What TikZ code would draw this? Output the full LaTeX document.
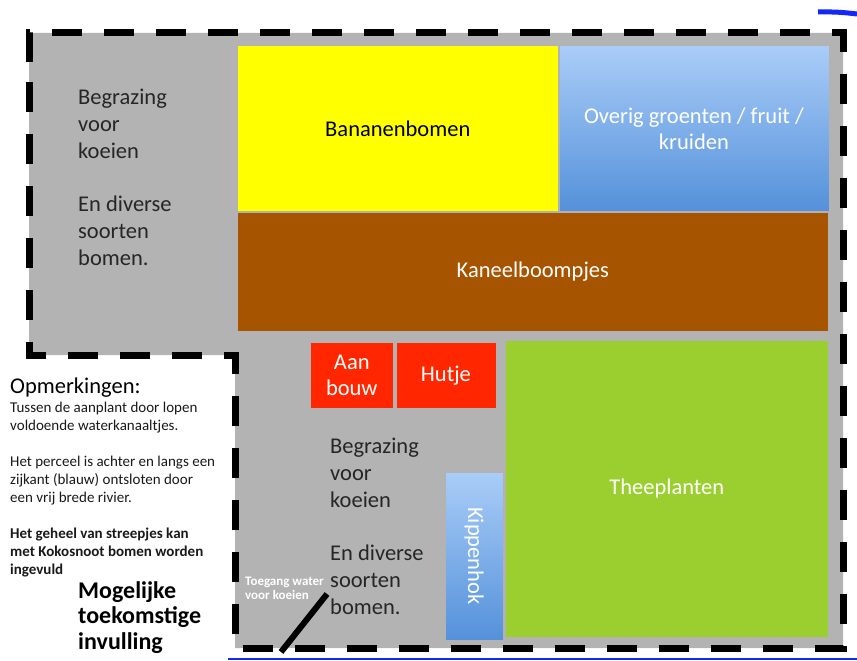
\documentclass[tikz,border=0pt]{standalone}
\usepackage{fontspec}
\setmainfont{Carlito}
\usetikzlibrary{positioning}

\definecolor{veld}{RGB}{179,179,179}
\definecolor{banaan}{RGB}{255,255,0}
\definecolor{kaneel}{RGB}{166,84,0}
\definecolor{hut}{RGB}{255,38,0}
\definecolor{thee}{RGB}{155,207,48}
\definecolor{lichtblauw}{RGB}{170,205,248}
\definecolor{donkerblauw}{RGB}{84,145,218}
\definecolor{rivier}{RGB}{20,40,245}

\begin{document}
\begin{tikzpicture}[x=1pt, y=-1pt,
        box/.style={draw=black!30, line width=0.6pt, rectangle, anchor=north west, inner sep=0pt, align=center, text=white, font=\fontsize{22.5}{26}\selectfont},
        blauw/.style={top color=lichtblauw, bottom color=donkerblauw},
        plan/.style={anchor=north west, inner sep=0pt, align=left, text=black!85, font=\fontsize{22.5}{26.7}\selectfont},
        note/.style={anchor=north west, inner sep=0pt, align=left, text=black!90, font=\fontsize{15}{18.3}\selectfont}
    ]
        \useasboundingbox (0,0) rectangle (857,661);

        % terrein met streepjesrand
        \fill[veld] (29,33) -- (843,33) -- (843,648) -- (235,648) -- (235,355) -- (29,355) -- cycle;
        \draw[line width=7pt, dash pattern=on 30pt off 22pt] (29,62) -- (29,33) -- (843,33) -- (843,648) -- (235,648) -- (235,355) -- (29,355) -- cycle;

        % rivier
        \draw[rivier, line width=2pt] (228,659) -- (857,659);
        \draw[rivier, line width=5pt] (818,12) to[bend left=4] (857,14);

        % aanplant
        \node[box, fill=banaan, text=black, minimum width=321pt, minimum height=166pt] (bananen) at (237,45) {Bananenbomen};
        \node[box, blauw, minimum width=270pt, minimum height=166pt, right=0pt of bananen] (overig) {Overig groenten / fruit /\\kruiden};
        \node[box, fill=kaneel, minimum width=591pt, minimum height=119pt] (kaneel) at (bananen.south west) {Kaneelboompjes};
        \node[box, fill=hut, minimum width=83pt, minimum height=66pt] (aanbouw) at (310,342) {Aan\\bouw};
        \node[box, fill=hut, minimum width=100pt, minimum height=66pt, right=2pt of aanbouw] (hutje) {Hutje};
        \node[box, fill=thee, minimum width=323pt, minimum height=297pt] (thee) at (505,340) {Theeplanten};
        \node[box, blauw, rotate=-90, anchor=center, minimum width=168pt, minimum height=58pt] (kippen) at (474,556) {Kippenhok};

        % toegang water
        \draw[line width=6pt] (281,652) -- (327,594);
        \node[anchor=north west, inner sep=0pt, align=left, text=white, font=\bfseries\fontsize{13}{14}\selectfont] (toegang) at (245,577) {Toegang water\\voor koeien};

        % begrazing
        \node[plan] (graas1) at (78,89) {Begrazing\\voor\\koeien\\[27pt]En diverse\\soorten\\bomen.};
        \node[plan] (graas2) at (330,438) {Begrazing\\voor\\koeien\\[27pt]En diverse\\soorten\\bomen.};

        % opmerkingen
        \node[plan, text=black] (opm) at (10,378) {Opmerkingen:};
        \node[note] (opmtekst) at (10,402) {Tussen de aanplant door lopen\\voldoende waterkanaaltjes.\\[17pt]Het perceel is achter en langs een\\zijkant (blauw) ontsloten door\\een vrij brede rivier.\\[17pt]\textbf{Het geheel van streepjes kan}\\\textbf{met Kokosnoot bomen worden}\\\textbf{ingevuld}};
        \node[anchor=north west, inner sep=0pt, align=left, font=\bfseries\fontsize{24}{25.5}\selectfont] (toekomst) at (78,581) {Mogelijke\\toekomstige\\invulling};
    \end{tikzpicture}
\end{document}
